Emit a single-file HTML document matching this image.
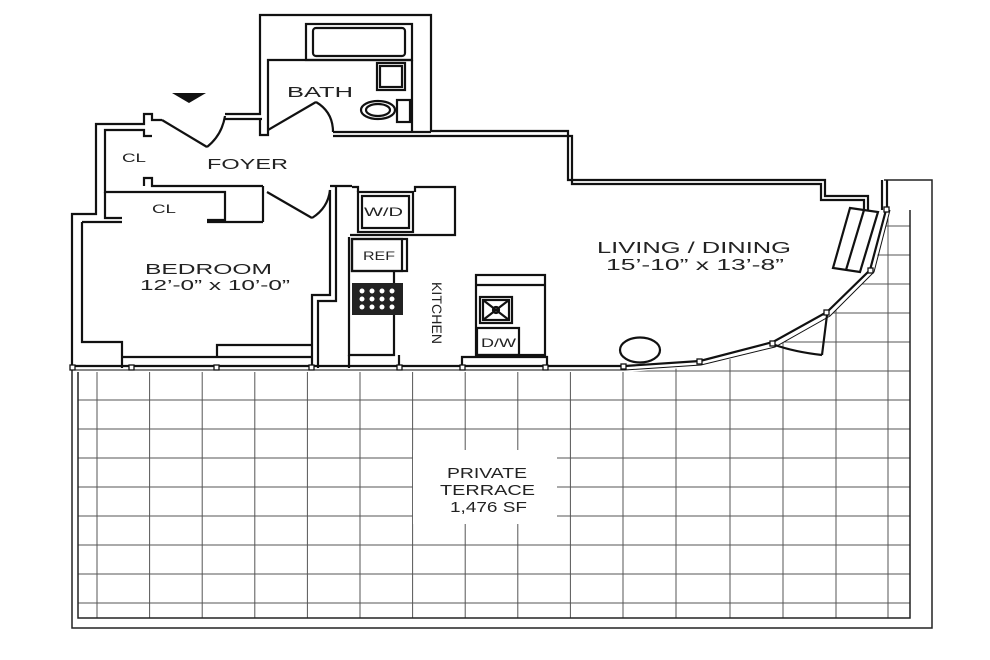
<!DOCTYPE html>
<html><head><meta charset="utf-8"><style>
html,body{margin:0;padding:0;background:#fff;}
svg{display:block;}
text{font-family:"Liberation Sans",sans-serif;fill:#222;}
</style></head><body>
<svg width="990" height="660" viewBox="0 0 990 660" xmlns="http://www.w3.org/2000/svg">
<defs>
<clipPath id="tc"><polygon points="78,372 625,372 700,367 773,348 828,318 872,274 890,210 910,210 910,618 78,618"/></clipPath>
</defs>
<g clip-path="url(#tc)" stroke="#555" stroke-width="1">
<line x1="97" y1="150" x2="97" y2="620"/><line x1="149.6" y1="150" x2="149.6" y2="620"/><line x1="202.2" y1="150" x2="202.2" y2="620"/><line x1="254.8" y1="150" x2="254.8" y2="620"/><line x1="307.4" y1="150" x2="307.4" y2="620"/><line x1="360" y1="150" x2="360" y2="620"/><line x1="412.6" y1="150" x2="412.6" y2="620"/><line x1="465.2" y1="150" x2="465.2" y2="620"/><line x1="517.8" y1="150" x2="517.8" y2="620"/><line x1="570.4" y1="150" x2="570.4" y2="620"/><line x1="623" y1="150" x2="623" y2="620"/><line x1="676" y1="150" x2="676" y2="620"/><line x1="730" y1="150" x2="730" y2="620"/><line x1="783" y1="150" x2="783" y2="620"/><line x1="836" y1="150" x2="836" y2="620"/><line x1="888" y1="150" x2="888" y2="620"/>
<line x1="70" y1="226" x2="920" y2="226"/><line x1="70" y1="255" x2="920" y2="255"/><line x1="70" y1="284" x2="920" y2="284"/><line x1="70" y1="313" x2="920" y2="313"/><line x1="70" y1="342" x2="920" y2="342"/><line x1="70" y1="371" x2="920" y2="371"/><line x1="70" y1="400" x2="920" y2="400"/><line x1="70" y1="429" x2="920" y2="429"/><line x1="70" y1="458" x2="920" y2="458"/><line x1="70" y1="487" x2="920" y2="487"/><line x1="70" y1="516" x2="920" y2="516"/><line x1="70" y1="545" x2="920" y2="545"/><line x1="70" y1="574" x2="920" y2="574"/><line x1="70" y1="603" x2="920" y2="603"/>
</g>
<rect x="413" y="450" width="144" height="74" fill="#fff"/>
<g fill="none" stroke="#222" stroke-width="1.5">
<polyline points="78,372 78,618 910,618 910,210"/>
<polyline points="72,368 72,628 932,628 932,180 884,180"/>
</g>
<g fill="none" stroke="#111" stroke-width="2.2">
<polyline points="72,368 72,214 96,214 96,124 144,124 144,114 152,114 152,120 162,120"/>
<polyline points="225,114 260,114 260,15 431,15 431,131 568,131 568,180 825,180 825,196 868,196 868,210"/>
<polyline points="225,119 262,119"/>
<polyline points="260,119 260,135 268,135 268,60 412,60"/>
<polyline points="412,60 412,132"/>
<polyline points="333,132 431,132"/>
<polyline points="333,136 572,136 572,184 821,184 821,200 864,200 864,210"/>
<line x1="882" y1="180" x2="882" y2="210"/><line x1="887" y1="180" x2="887" y2="210"/>
<polyline points="105,186 105,130 144,130 144,136 152,136"/>
<polyline points="144,186 144,178 152,178 152,186 263,186"/>
<polyline points="105,186 105,192 225,192 225,220 207,220"/>
<polyline points="105,192 105,218 122,218"/>
<polyline points="263,186 263,222"/>
<polyline points="82,222 122,222"/>
<polyline points="82,222 82,342 122,342 122,368"/>
<polyline points="207,222 263,222"/>
<polyline points="330,186 352,186"/>
<polyline points="330,190 330,295 312,295 312,368"/>
<polyline points="336,186 336,301 318,301 318,368"/>
<polyline points="122,357 312,357"/>
<polyline points="217,357 217,345 312,345"/>
<line x1="162" y1="120" x2="207" y2="147"/><path d="M207,147 Q222,135 225,116"/>
<line x1="268" y1="130" x2="316" y2="102"/><path d="M316,102 Q333,112 333,132"/>
<line x1="267" y1="192" x2="312" y2="218"/><path d="M312,218 Q328,208 330,190"/>
<rect x="306" y="24" width="106" height="36"/><rect x="313" y="28" width="92" height="28" rx="3"/>
<rect x="377" y="63" width="28" height="27"/><rect x="380" y="66" width="22" height="21"/>
<ellipse cx="378" cy="110" rx="17" ry="9"/><ellipse cx="378" cy="110" rx="12" ry="6"/>
<rect x="397" y="100" width="13" height="22"/>
<polyline points="352,187 358,187 358,192"/><polyline points="415,192 415,187 455,187 455,235 350,235"/>
<rect x="358" y="192" width="55" height="40"/><rect x="362" y="196" width="47" height="32"/>
<polyline points="349,237 349,355 394,355 394,272"/>
<rect x="352" y="239" width="55" height="32"/><rect x="352" y="239" width="50" height="32"/>
<rect x="476" y="275" width="69" height="80"/><line x1="476" y1="285" x2="545" y2="285"/>
<rect x="480" y="297" width="32" height="26"/><rect x="483" y="300" width="26" height="20"/>
<line x1="483" y1="300" x2="509" y2="320"/><line x1="509" y1="300" x2="483" y2="320"/><circle cx="496" cy="310" r="3"/>
<rect x="477" y="328" width="42" height="27"/>
<polyline points="462,368 462,357 547,357 547,368"/>
<polyline points="349,355 349,368"/><polyline points="399,355 399,368"/>
<ellipse cx="640" cy="350" rx="20" ry="12.5"/>
<polyline points="72,366 625,366 700,361 773,342 827,312 870,270 886,210"/>
<polyline points="72,370 625,370 701,365 775,347 830,316 874,272 890,210" stroke-width="1"/>
<line x1="827" y1="315" x2="822" y2="355"/><path d="M822,355 Q795,352 775,345"/>
<polygon points="850,208 878,212 860,272 833,268"/><line x1="864" y1="210" x2="846" y2="270"/>
</g>
<rect x="352" y="283" width="51" height="32" fill="#222"/>
<g fill="#fff"><circle cx="362" cy="291" r="2.5"/><circle cx="372" cy="291" r="2.5"/><circle cx="382" cy="291" r="2.5"/><circle cx="392" cy="291" r="2.5"/><circle cx="362" cy="299" r="2.5"/><circle cx="372" cy="299" r="2.5"/><circle cx="382" cy="299" r="2.5"/><circle cx="392" cy="299" r="2.5"/><circle cx="362" cy="307" r="2.5"/><circle cx="372" cy="307" r="2.5"/><circle cx="382" cy="307" r="2.5"/><circle cx="392" cy="307" r="2.5"/></g>
<g fill="#fff" stroke="#111" stroke-width="1.3">
<rect x="70" y="365" width="5" height="5"/><rect x="129" y="365" width="5" height="5"/><rect x="214" y="365" width="5" height="5"/><rect x="309" y="365" width="5" height="5"/><rect x="397" y="365" width="5" height="5"/><rect x="460" y="365" width="5" height="5"/><rect x="543" y="365" width="5" height="5"/><rect x="621" y="364" width="5" height="5"/><rect x="697" y="359" width="5" height="5"/><rect x="770" y="341" width="5" height="5"/><rect x="824" y="310" width="5" height="5"/><rect x="868" y="268" width="5" height="5"/><rect x="884" y="207" width="5" height="5"/>
</g>
<polygon points="172,93 206,93 189,103" fill="#111"/>
<g>
<text x="287" y="97" font-size="15" textLength="66" lengthAdjust="spacingAndGlyphs">BATH</text>
<text x="122" y="162" font-size="12" textLength="24" lengthAdjust="spacingAndGlyphs">CL</text>
<text x="207" y="169" font-size="15" textLength="81" lengthAdjust="spacingAndGlyphs">FOYER</text>
<text x="152" y="213" font-size="12" textLength="24" lengthAdjust="spacingAndGlyphs">CL</text>
<text x="145" y="274" font-size="15" textLength="127" lengthAdjust="spacingAndGlyphs">BEDROOM</text>
<text x="140" y="290" font-size="15" textLength="150" lengthAdjust="spacingAndGlyphs">12’-0” x 10’-0”</text>
<text x="364" y="216" font-size="12" textLength="39" lengthAdjust="spacingAndGlyphs">W/D</text>
<text x="363" y="260" font-size="12" textLength="32" lengthAdjust="spacingAndGlyphs">REF</text>
<text x="481" y="347" font-size="12" textLength="35" lengthAdjust="spacingAndGlyphs">D/W</text>
<text x="597" y="253" font-size="16" textLength="194" lengthAdjust="spacingAndGlyphs">LIVING / DINING</text>
<text x="606" y="270" font-size="16" textLength="178" lengthAdjust="spacingAndGlyphs">15’-10” x 13’-8”</text>
<text x="447" y="478" font-size="15" textLength="80" lengthAdjust="spacingAndGlyphs">PRIVATE</text>
<text x="440" y="495" font-size="15" textLength="95" lengthAdjust="spacingAndGlyphs">TERRACE</text>
<text x="450" y="512" font-size="15" textLength="77" lengthAdjust="spacingAndGlyphs">1,476 SF</text>
<text x="0" y="0" font-size="14" textLength="62" lengthAdjust="spacing" transform="translate(432,282) rotate(90)">KITCHEN</text>
</g>
</svg>
</body></html>
